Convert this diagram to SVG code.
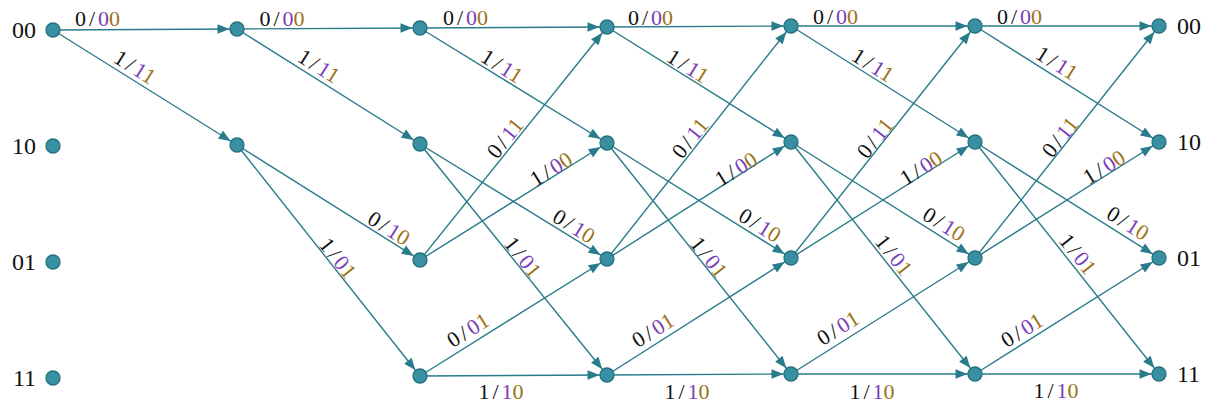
<svg xmlns="http://www.w3.org/2000/svg" width="1211" height="405" viewBox="0 0 1211 405">
<style>
.e{stroke:#2a7b8b;stroke-width:1.4;fill:none;marker-end:url(#ah)}
.n{fill:#3990a3;stroke:#25707f;stroke-width:1.3}
.st{font-family:"Liberation Serif","Times New Roman",serif;font-size:24px;fill:#111}
.l{font-family:"Liberation Serif","Times New Roman",serif;font-size:22px;fill:#111;text-anchor:middle}
.p{fill:#7b3db8}
.o{fill:#9c7216}
</style>
<defs>
<marker id="ah" markerUnits="userSpaceOnUse" markerWidth="12" markerHeight="10" refX="19.5" refY="4.75" orient="auto" overflow="visible">
<path d="M0,0 L12,4.75 L0,9.5 z" fill="#2a7b8b"/>
</marker>
</defs>
<g id="connectors">
<line class="e" x1="53" y1="30" x2="237" y2="29"/>
<line class="e" x1="53" y1="30" x2="237" y2="145"/>
<line class="e" x1="237" y1="29" x2="420" y2="28"/>
<line class="e" x1="237" y1="29" x2="420" y2="144"/>
<line class="e" x1="237" y1="145" x2="420" y2="260"/>
<line class="e" x1="237" y1="145" x2="420" y2="376"/>
<line class="e" x1="420" y1="28" x2="607" y2="27"/>
<line class="e" x1="420" y1="28" x2="607" y2="143"/>
<line class="e" x1="420" y1="144" x2="607" y2="259"/>
<line class="e" x1="420" y1="144" x2="607" y2="375"/>
<line class="e" x1="420" y1="260" x2="607" y2="27"/>
<line class="e" x1="420" y1="260" x2="607" y2="143"/>
<line class="e" x1="420" y1="376" x2="607" y2="259"/>
<line class="e" x1="420" y1="376" x2="607" y2="375"/>
<line class="e" x1="607" y1="27" x2="791" y2="26"/>
<line class="e" x1="607" y1="27" x2="791" y2="142"/>
<line class="e" x1="607" y1="143" x2="791" y2="258"/>
<line class="e" x1="607" y1="143" x2="791" y2="374"/>
<line class="e" x1="607" y1="259" x2="791" y2="26"/>
<line class="e" x1="607" y1="259" x2="791" y2="142"/>
<line class="e" x1="607" y1="375" x2="791" y2="258"/>
<line class="e" x1="607" y1="375" x2="791" y2="374"/>
<line class="e" x1="791" y1="26" x2="975" y2="26"/>
<line class="e" x1="791" y1="26" x2="975" y2="142"/>
<line class="e" x1="791" y1="142" x2="975" y2="258"/>
<line class="e" x1="791" y1="142" x2="975" y2="374"/>
<line class="e" x1="791" y1="258" x2="975" y2="26"/>
<line class="e" x1="791" y1="258" x2="975" y2="142"/>
<line class="e" x1="791" y1="374" x2="975" y2="258"/>
<line class="e" x1="791" y1="374" x2="975" y2="374"/>
<line class="e" x1="975" y1="26" x2="1159" y2="26"/>
<line class="e" x1="975" y1="26" x2="1159" y2="142"/>
<line class="e" x1="975" y1="142" x2="1159" y2="258"/>
<line class="e" x1="975" y1="142" x2="1159" y2="374"/>
<line class="e" x1="975" y1="258" x2="1159" y2="26"/>
<line class="e" x1="975" y1="258" x2="1159" y2="142"/>
<line class="e" x1="975" y1="374" x2="1159" y2="258"/>
<line class="e" x1="975" y1="374" x2="1159" y2="374"/>
</g>
<g id="edge-labels">
<text class="l" transform="translate(97.5,18.5)" y="7.5">0<tspan dx="3">/</tspan><tspan dx="3" class="p">0</tspan><tspan class="o">0</tspan></text>
<text class="l" transform="translate(135,67) rotate(32)" y="7.5">1<tspan dx="3">/</tspan><tspan dx="3" class="p">1</tspan><tspan class="o">1</tspan></text>
<text class="l" transform="translate(282,18)" y="7.5">0<tspan dx="3">/</tspan><tspan dx="3" class="p">0</tspan><tspan class="o">0</tspan></text>
<text class="l" transform="translate(319,66) rotate(32)" y="7.5">1<tspan dx="3">/</tspan><tspan dx="3" class="p">1</tspan><tspan class="o">1</tspan></text>
<text class="l" transform="translate(389,228) rotate(32)" y="7.5">0<tspan dx="3">/</tspan><tspan dx="3" class="p">1</tspan><tspan class="o">0</tspan></text>
<text class="l" transform="translate(338,258) rotate(51.5)" y="7.5">1<tspan dx="3">/</tspan><tspan dx="3" class="p">0</tspan><tspan class="o">1</tspan></text>
<text class="l" transform="translate(465.5,17.5)" y="7.5">0<tspan dx="3">/</tspan><tspan dx="3" class="p">0</tspan><tspan class="o">0</tspan></text>
<text class="l" transform="translate(502,66) rotate(32)" y="7.5">1<tspan dx="3">/</tspan><tspan dx="3" class="p">1</tspan><tspan class="o">1</tspan></text>
<text class="l" transform="translate(505,138) rotate(-51.5)" y="7.5">0<tspan dx="3">/</tspan><tspan dx="3" class="p">1</tspan><tspan class="o">1</tspan></text>
<text class="l" transform="translate(551,169) rotate(-32)" y="7.5">1<tspan dx="3">/</tspan><tspan dx="3" class="p">0</tspan><tspan class="o">0</tspan></text>
<text class="l" transform="translate(574,226) rotate(32)" y="7.5">0<tspan dx="3">/</tspan><tspan dx="3" class="p">1</tspan><tspan class="o">0</tspan></text>
<text class="l" transform="translate(523,257) rotate(51.5)" y="7.5">1<tspan dx="3">/</tspan><tspan dx="3" class="p">0</tspan><tspan class="o">1</tspan></text>
<text class="l" transform="translate(468,330) rotate(-32)" y="7.5">0<tspan dx="3">/</tspan><tspan dx="3" class="p">0</tspan><tspan class="o">1</tspan></text>
<text class="l" transform="translate(501,391)" y="7.5">1<tspan dx="3">/</tspan><tspan dx="3" class="p">1</tspan><tspan class="o">0</tspan></text>
<text class="l" transform="translate(650.5,17.5)" y="7.5">0<tspan dx="3">/</tspan><tspan dx="3" class="p">0</tspan><tspan class="o">0</tspan></text>
<text class="l" transform="translate(688,66) rotate(32)" y="7.5">1<tspan dx="3">/</tspan><tspan dx="3" class="p">1</tspan><tspan class="o">1</tspan></text>
<text class="l" transform="translate(690,138) rotate(-51.5)" y="7.5">0<tspan dx="3">/</tspan><tspan dx="3" class="p">1</tspan><tspan class="o">1</tspan></text>
<text class="l" transform="translate(736,169) rotate(-32)" y="7.5">1<tspan dx="3">/</tspan><tspan dx="3" class="p">0</tspan><tspan class="o">0</tspan></text>
<text class="l" transform="translate(760,225) rotate(32)" y="7.5">0<tspan dx="3">/</tspan><tspan dx="3" class="p">1</tspan><tspan class="o">0</tspan></text>
<text class="l" transform="translate(709,257) rotate(51.5)" y="7.5">1<tspan dx="3">/</tspan><tspan dx="3" class="p">0</tspan><tspan class="o">1</tspan></text>
<text class="l" transform="translate(653,330) rotate(-32)" y="7.5">0<tspan dx="3">/</tspan><tspan dx="3" class="p">0</tspan><tspan class="o">1</tspan></text>
<text class="l" transform="translate(687,391)" y="7.5">1<tspan dx="3">/</tspan><tspan dx="3" class="p">1</tspan><tspan class="o">0</tspan></text>
<text class="l" transform="translate(835.5,16.5)" y="7.5">0<tspan dx="3">/</tspan><tspan dx="3" class="p">0</tspan><tspan class="o">0</tspan></text>
<text class="l" transform="translate(873,65) rotate(32)" y="7.5">1<tspan dx="3">/</tspan><tspan dx="3" class="p">1</tspan><tspan class="o">1</tspan></text>
<text class="l" transform="translate(875,138) rotate(-51.5)" y="7.5">0<tspan dx="3">/</tspan><tspan dx="3" class="p">1</tspan><tspan class="o">1</tspan></text>
<text class="l" transform="translate(921,168) rotate(-32)" y="7.5">1<tspan dx="3">/</tspan><tspan dx="3" class="p">0</tspan><tspan class="o">0</tspan></text>
<text class="l" transform="translate(944,224) rotate(32)" y="7.5">0<tspan dx="3">/</tspan><tspan dx="3" class="p">1</tspan><tspan class="o">0</tspan></text>
<text class="l" transform="translate(894,255) rotate(51.5)" y="7.5">1<tspan dx="3">/</tspan><tspan dx="3" class="p">0</tspan><tspan class="o">1</tspan></text>
<text class="l" transform="translate(838,328) rotate(-32)" y="7.5">0<tspan dx="3">/</tspan><tspan dx="3" class="p">0</tspan><tspan class="o">1</tspan></text>
<text class="l" transform="translate(872,391)" y="7.5">1<tspan dx="3">/</tspan><tspan dx="3" class="p">1</tspan><tspan class="o">0</tspan></text>
<text class="l" transform="translate(1019.5,16)" y="7.5">0<tspan dx="3">/</tspan><tspan dx="3" class="p">0</tspan><tspan class="o">0</tspan></text>
<text class="l" transform="translate(1057,63) rotate(32)" y="7.5">1<tspan dx="3">/</tspan><tspan dx="3" class="p">1</tspan><tspan class="o">1</tspan></text>
<text class="l" transform="translate(1060,137) rotate(-51.5)" y="7.5">0<tspan dx="3">/</tspan><tspan dx="3" class="p">1</tspan><tspan class="o">1</tspan></text>
<text class="l" transform="translate(1104,167) rotate(-32)" y="7.5">1<tspan dx="3">/</tspan><tspan dx="3" class="p">0</tspan><tspan class="o">0</tspan></text>
<text class="l" transform="translate(1128,223) rotate(32)" y="7.5">0<tspan dx="3">/</tspan><tspan dx="3" class="p">1</tspan><tspan class="o">0</tspan></text>
<text class="l" transform="translate(1078,254) rotate(51.5)" y="7.5">1<tspan dx="3">/</tspan><tspan dx="3" class="p">0</tspan><tspan class="o">1</tspan></text>
<text class="l" transform="translate(1022,330) rotate(-32)" y="7.5">0<tspan dx="3">/</tspan><tspan dx="3" class="p">0</tspan><tspan class="o">1</tspan></text>
<text class="l" transform="translate(1056,390)" y="7.5">1<tspan dx="3">/</tspan><tspan dx="3" class="p">1</tspan><tspan class="o">0</tspan></text>
</g>
<g id="c0-s00"><circle class="n" cx="53" cy="30" r="7"/><text class="st" x="36" y="38" text-anchor="end">00</text></g>
<g id="c0-s10"><circle class="n" cx="53" cy="146" r="7"/><text class="st" x="36" y="154" text-anchor="end">10</text></g>
<g id="c0-s01"><circle class="n" cx="53" cy="262" r="7"/><text class="st" x="36" y="270" text-anchor="end">01</text></g>
<g id="c0-s11"><circle class="n" cx="53" cy="378" r="7"/><text class="st" x="36" y="386" text-anchor="end">11</text></g>
<g id="c1-s00"><circle class="n" cx="237" cy="29" r="7"/></g>
<g id="c1-s10"><circle class="n" cx="237" cy="145" r="7"/></g>
<g id="c2-s00"><circle class="n" cx="420" cy="28" r="7"/></g>
<g id="c2-s10"><circle class="n" cx="420" cy="144" r="7"/></g>
<g id="c2-s01"><circle class="n" cx="420" cy="260" r="7"/></g>
<g id="c2-s11"><circle class="n" cx="420" cy="376" r="7"/></g>
<g id="c3-s00"><circle class="n" cx="607" cy="27" r="7"/></g>
<g id="c3-s10"><circle class="n" cx="607" cy="143" r="7"/></g>
<g id="c3-s01"><circle class="n" cx="607" cy="259" r="7"/></g>
<g id="c3-s11"><circle class="n" cx="607" cy="375" r="7"/></g>
<g id="c4-s00"><circle class="n" cx="791" cy="26" r="7"/></g>
<g id="c4-s10"><circle class="n" cx="791" cy="142" r="7"/></g>
<g id="c4-s01"><circle class="n" cx="791" cy="258" r="7"/></g>
<g id="c4-s11"><circle class="n" cx="791" cy="374" r="7"/></g>
<g id="c5-s00"><circle class="n" cx="975" cy="26" r="7"/></g>
<g id="c5-s10"><circle class="n" cx="975" cy="142" r="7"/></g>
<g id="c5-s01"><circle class="n" cx="975" cy="258" r="7"/></g>
<g id="c5-s11"><circle class="n" cx="975" cy="374" r="7"/></g>
<g id="c6-s00"><circle class="n" cx="1159" cy="26" r="7"/><text class="st" x="1177" y="34">00</text></g>
<g id="c6-s10"><circle class="n" cx="1159" cy="142" r="7"/><text class="st" x="1177" y="150">10</text></g>
<g id="c6-s01"><circle class="n" cx="1159" cy="258" r="7"/><text class="st" x="1177" y="266">01</text></g>
<g id="c6-s11"><circle class="n" cx="1159" cy="374" r="7"/><text class="st" x="1177" y="382">11</text></g>
</svg>
